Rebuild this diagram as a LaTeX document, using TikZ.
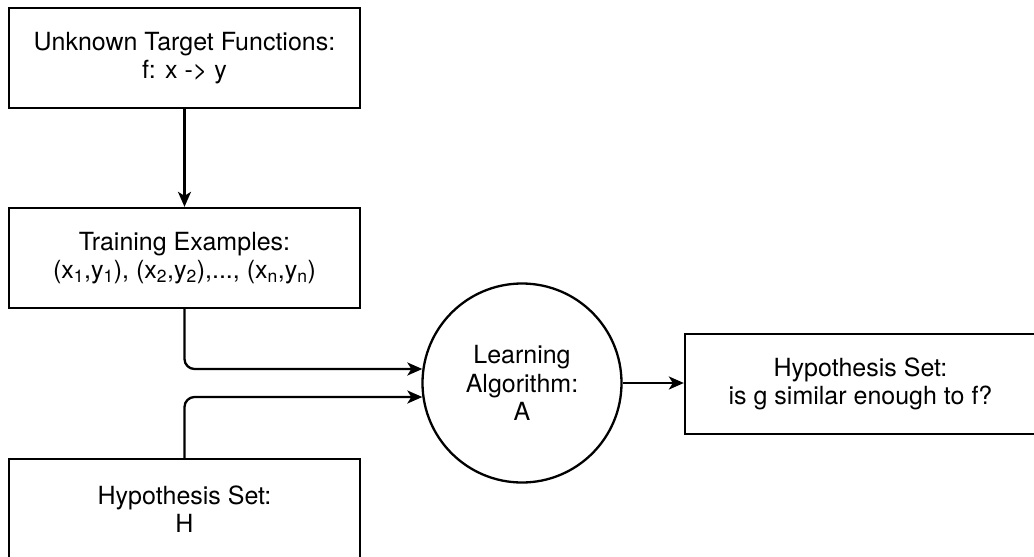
\documentclass[tikz,border=0pt]{standalone}
\usepackage{fontspec}
\setmainfont{TeX Gyre Heros}
\usetikzlibrary{arrows.meta}
\begin{document}
\begin{tikzpicture}[x=1pt,y=-1pt,
  lbl/.style={font=\fontsize{25}{28.5}\selectfont, align=center},
  box/.style={lbl, draw, line width=2.3pt, minimum width=351pt, minimum height=100pt, inner sep=0pt},
  roundnode/.style={lbl, draw, line width=2.3pt, circle, minimum size=199pt, inner sep=0pt},
  link/.style={line width=2.3pt, -{Stealth[length=15pt, width=13pt, inset=4pt]}}]
  \useasboundingbox (0,0) rectangle (1034,557);
  \clip (0,0) rectangle (1034,557);

  % boxes and the learning step
  \node[box] (target) at (184.5,58) {Unknown Target Functions:\\f: x -> y};
  \node[box] (train) at (184.5,258) {Training Examples:\\(x\textsubscript{1},y\textsubscript{1}), (x\textsubscript{2},y\textsubscript{2}),..., (x\textsubscript{n},y\textsubscript{n})};
  \node[box] (hset) at (184.5,509) {Hypothesis Set:\\H};
  \node[roundnode] (algo) at (522,383) {Learning\\Algorithm:\\A};
  \node[box] (final) at (860.5,384) {Hypothesis Set:\\is g similar enough to f?};

  % connectors
  \draw[link] (target.south) -- (train.north);
  \draw[link, rounded corners=10pt] (train.south) |- (algo.172.5);
  \draw[link, rounded corners=10pt] (hset.north) |- (algo.188.1);
  \draw[link] (algo.east) -- (final.west |- algo.east);
\end{tikzpicture}
\end{document}
